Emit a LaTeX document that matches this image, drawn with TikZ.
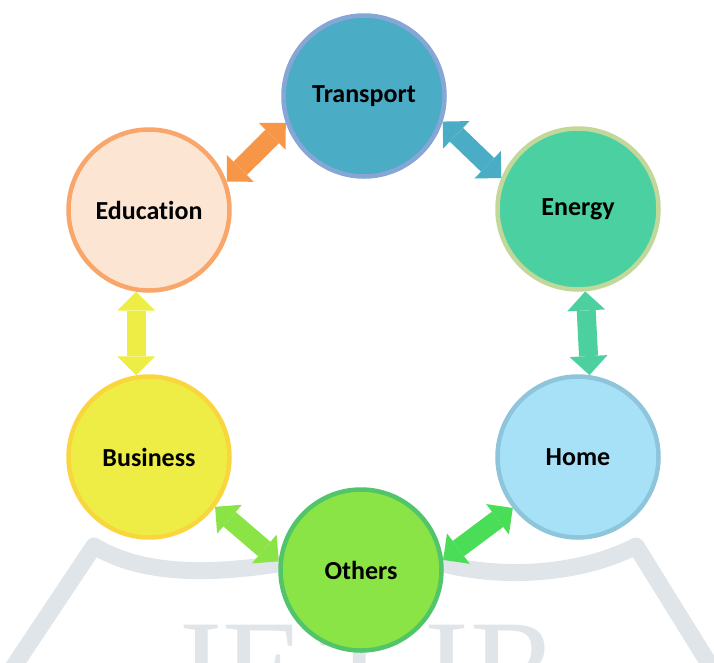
\documentclass[tikz,border=0pt]{standalone}
\usepackage{fontspec}
\setmainfont{Carlito}[Ligatures=NoCommon]
\newfontfamily\wmfont{Liberation Serif}
\usetikzlibrary{arrows.meta}
\definecolor{trfill}{HTML}{4BACC6}
\definecolor{trdraw}{HTML}{86A6D6}
\definecolor{enfill}{HTML}{4BD0A2}
\definecolor{endraw}{HTML}{C2D89A}
\definecolor{edfill}{HTML}{FDE5D4}
\definecolor{eddraw}{HTML}{F8A66A}
\definecolor{bufill}{HTML}{EDED45}
\definecolor{budraw}{HTML}{F9D63E}
\definecolor{hofill}{HTML}{A6E1F8}
\definecolor{hodraw}{HTML}{8EC5DA}
\definecolor{otfill}{HTML}{8BE446}
\definecolor{otdraw}{HTML}{52C46A}
\definecolor{aorange}{HTML}{F79646}
\definecolor{aaqua}{HTML}{4BACC6}
\definecolor{ayellow}{HTML}{EDED45}
\definecolor{ateal}{HTML}{4DD0A0}
\definecolor{alime}{HTML}{8BE446}
\definecolor{agreen}{HTML}{4ADD58}
\definecolor{wmgray}{HTML}{E0E5E9}
\begin{document}
\begin{tikzpicture}[x=1pt,y=-1pt,
  bubble/.style={circle, minimum size=161pt, inner sep=0pt, line width=4.5pt,
    font=\fontsize{26}{31}\selectfont\bfseries},
  link/.style={line width=19pt,
    {Triangle[length=19pt,width=38pt,line width=0pt]}-{Triangle[length=19pt,width=38pt,line width=0pt]}},
  wmband/.style={draw=wmgray, line width=17pt, line join=round},
  wmletter/.style={text=wmgray, inner sep=0pt, anchor=north west,
    font=\wmfont\fontsize{135}{135}\selectfont}]
\useasboundingbox (0,0) rectangle (714,662);
\begin{scope}
\clip (0,0) rectangle (714,662);
\draw[wmband] (8,675) -- (94,546) .. controls (150,580) and (230,572) .. (290,562);
\draw[wmband] (436,562) .. controls (500,580) and (580,575) .. (636,546) -- (716,675);
\node[wmletter] (wj) at (168,625) {J};
\node[wmletter] (we) at (222,625) {E};
\node[wmletter] (wt) at (318,625) {T};
\node[wmletter] (wi) at (424,625) {I};
\node[wmletter] (wr) at (470,625) {R};
\end{scope}
\node[bubble, fill=trfill, draw=trdraw] (tr) at (364,96) {Transport};
\node[bubble, fill=enfill, draw=endraw] (en) at (578,209) {Energy};
\node[bubble, fill=edfill, draw=eddraw] (ed) at (149,210) {Education};
\node[bubble, fill=bufill, draw=budraw] (bu) at (149,457) {Business};
\node[bubble, fill=hofill, draw=hodraw] (ho) at (578,457) {Home};
\node[bubble, fill=otfill, draw=otdraw] (ot) at (361,570) {Others};
\draw[link, aorange] (ed.20) -- (tr.199);
\draw[link, aaqua] (tr.342) -- (en.158);
\draw[link, ayellow] (ed.261) -- (bu.99);
\draw[link, ateal] (en.275) -- (ho.82);
\draw[link, alime] (bu.323) -- (ot.174);
\draw[link, agreen] (ot.7) -- (ho.218);
\end{tikzpicture}
\end{document}
